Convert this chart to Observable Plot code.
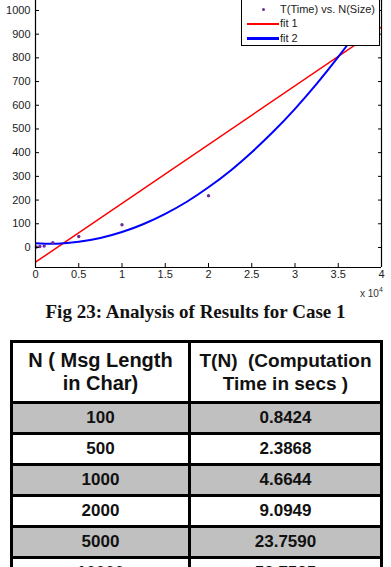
<!DOCTYPE html>
<html>
<head>
<meta charset="utf-8">
<script src="https://cdn.jsdelivr.net/npm/d3@7"></script>
<script src="https://cdn.jsdelivr.net/npm/@observablehq/plot@0.6"></script>
<style>
  html, body { margin: 0; padding: 0; background: #fff; }
  #wrap { position: relative; width: 391px; height: 567px; overflow: hidden; background: #fff; }
  #chart { position: absolute; left: 0; top: 0; }
  #legend { position: absolute; left: 241px; top: -12px; width: 137px; height: 56px; border: 1px solid #000; background: #fff;
            font-family: "Liberation Sans", Arial, sans-serif; font-size: 11px; color: #222; }
  .li { position: absolute; left: 0; height: 14px; line-height: 14px; white-space: nowrap; }
  .sw { position: absolute; left: 5px; width: 32px; }
  .lt { position: absolute; left: 38px; }
  #xexp { position: absolute; left: 360px; top: 286px; font-family: "Liberation Sans", Arial, sans-serif; font-size: 10px; color: #333; }
  #xexp sup { font-size: 7px; vertical-align: 5px; }
  #caption { position: absolute; left: 0; width: 391px; top: 301px; text-align: center;
             font-family: "Liberation Serif", "Times New Roman", serif; font-weight: bold; font-size: 19px; color: #111; }
  #tbl { position: absolute; left: 10px; top: 340px; border-collapse: collapse; table-layout: fixed;
         font-family: "Liberation Sans", Arial, sans-serif; font-weight: bold; color: #111; }
  #tbl td { border: 3px solid #000; text-align: center; padding: 0; }
  #tbl tr.hd td { height: 58px; font-size: 20px; line-height: 23px; white-space: pre; }
  #tbl tr.hd td.c2 { font-size: 19px; }
  #tbl tr.r td { height: 28px; font-size: 17px; }
  #tbl tr.g td { background: #c0c0c0; }
</style>
</head>
<body>
<div id="wrap">
  <div id="chart"></div>
  <div id="legend"></div>
  <div id="xexp">x 10<sup>4</sup></div>
  <div id="caption">Fig 23: Analysis of Results for Case 1</div>
  <table id="tbl"></table>
</div>
<script>
// ---- chart data (x in units of 10^4) ----
const pointX = [0.01, 0.05, 0.1, 0.2, 0.5, 1, 2];
const pointY = [2, 4, 6, 20, 46, 96, 218];
const fit1X = [0, 4];
const fit1Y = [-62, 930];
const fit2X = [0, 0.25, 0.5, 0.75, 1, 1.25, 1.5, 1.75, 2, 2.25, 2.5, 2.75, 3, 3.25, 3.5, 3.75, 4];
const fit2Y = [18, 16, 24, 40, 65, 99, 142, 193, 254, 323, 402, 489, 585, 690, 804, 926, 1058];
const xTicks = [0, 0.5, 1, 1.5, 2, 2.5, 3, 3.5, 4];
const xTickLabels = ["0", "0.5", "1", "1.5", "2", "2.5", "3", "3.5", "4"];
const yTicks = [0, 100, 200, 300, 400, 500, 600, 700, 800, 900, 1000];
const yTickLabels = ["0", "100", "200", "300", "400", "500", "600", "700", "800", "900", "1000"];
const legendLabels = ["T(Time) vs. N(Size)", "fit 1", "fit 2"];
const xDomain = [0, 4];
const yDomain = [-84.5, 1042];

// ---- table data ----
const tableHeader = [["N ( Msg Length", "in Char)"], ["T(N)  (Computation", "Time in secs )"]];
const tableN = ["100", "500", "1000", "2000", "5000", "10000"];
const tableT = ["0.8424", "2.3868", "4.6644", "9.0949", "23.7590", "52.7535"];

const points = pointX.map((x, i) => ({x, y: pointY[i]}));
const fit1 = fit1X.map((x, i) => ({x, y: fit1Y[i]}));
const fit2 = fit2X.map((x, i) => ({x, y: fit2Y[i]}));

const plot = Plot.plot({
  width: 391,
  height: 300,
  marginLeft: 35,
  marginRight: 10,
  marginTop: 0,
  marginBottom: 33,
  x: {domain: xDomain},
  y: {domain: yDomain},
  style: {fontFamily: "'Liberation Sans', Arial, sans-serif", fontSize: "11px", color: "#222", background: "white"},
  marks: [
    Plot.line(fit1, {x: "x", y: "y", stroke: "#ff0000", strokeWidth: 1.5, clip: true}),
    Plot.line(fit2, {x: "x", y: "y", stroke: "#0000ff", strokeWidth: 2, curve: "natural", clip: true}),
    Plot.dot(points, {x: "x", y: "y", r: 1.7, fill: "#6a2c9e", stroke: "none"}),
    Plot.ruleX([xDomain[0], xDomain[1]], {stroke: "#000", strokeWidth: 1.2}),
    Plot.ruleY([yDomain[0]], {stroke: "#000", strokeWidth: 1.2}),
    Plot.axisX({ticks: xTicks, tickFormat: d => xTickLabels[xTicks.indexOf(d)], tickSize: -4, tickPadding: 7, label: null, stroke: "#000"}),
    Plot.axisY({ticks: yTicks, tickFormat: d => yTickLabels[yTicks.indexOf(d)], tickSize: -4, tickPadding: 9, label: null, stroke: "#000"}),
    Plot.axisY({anchor: "right", ticks: yTicks, tickFormat: () => "", tickSize: -4, label: null, stroke: "#000"})
  ]
});
document.getElementById("chart").appendChild(plot);

// ---- legend ----
const legend = document.getElementById("legend");
const legendTops = [20, 34, 49];
const legendColors = ["#6a2c9e", "#ff0000", "#0000ff"];
legendLabels.forEach((lab, i) => {
  const row = document.createElement("div");
  row.className = "li";
  row.style.top = (legendTops[i] - 7) + "px";
  row.style.width = "137px";
  const sw = document.createElement("div");
  sw.className = "sw";
  if (i === 0) {
    sw.style.top = "6px"; sw.style.height = "3px";
    const d = document.createElement("div");
    d.style.cssText = "position:absolute;left:15px;top:0;width:3px;height:3px;border-radius:50%;background:" + legendColors[0];
    sw.appendChild(d);
  } else {
    sw.style.top = i === 1 ? "7px" : "6px";
    sw.style.height = i === 1 ? "2px" : "3px";
    sw.style.background = legendColors[i];
  }
  row.appendChild(sw);
  const t = document.createElement("span");
  t.className = "lt";
  t.textContent = lab;
  row.appendChild(t);
  legend.appendChild(row);
});

// ---- table ----
const tbl = document.getElementById("tbl");
const cg = document.createElement("colgroup");
[178, 192].forEach(w => { const c = document.createElement("col"); c.style.width = w + "px"; cg.appendChild(c); });
tbl.appendChild(cg);
const hr = document.createElement("tr");
hr.className = "hd";
tableHeader.forEach((lines, j) => {
  const td = document.createElement("td");
  td.className = "c" + (j + 1);
  td.textContent = lines.join("\n");
  hr.appendChild(td);
});
tbl.appendChild(hr);
tableN.forEach((n, i) => {
  const tr = document.createElement("tr");
  tr.className = "r" + (i % 2 === 0 ? " g" : "");
  [n, tableT[i]].forEach(v => { const td = document.createElement("td"); td.textContent = v; tr.appendChild(td); });
  tbl.appendChild(tr);
});
</script>
</body>
</html>
